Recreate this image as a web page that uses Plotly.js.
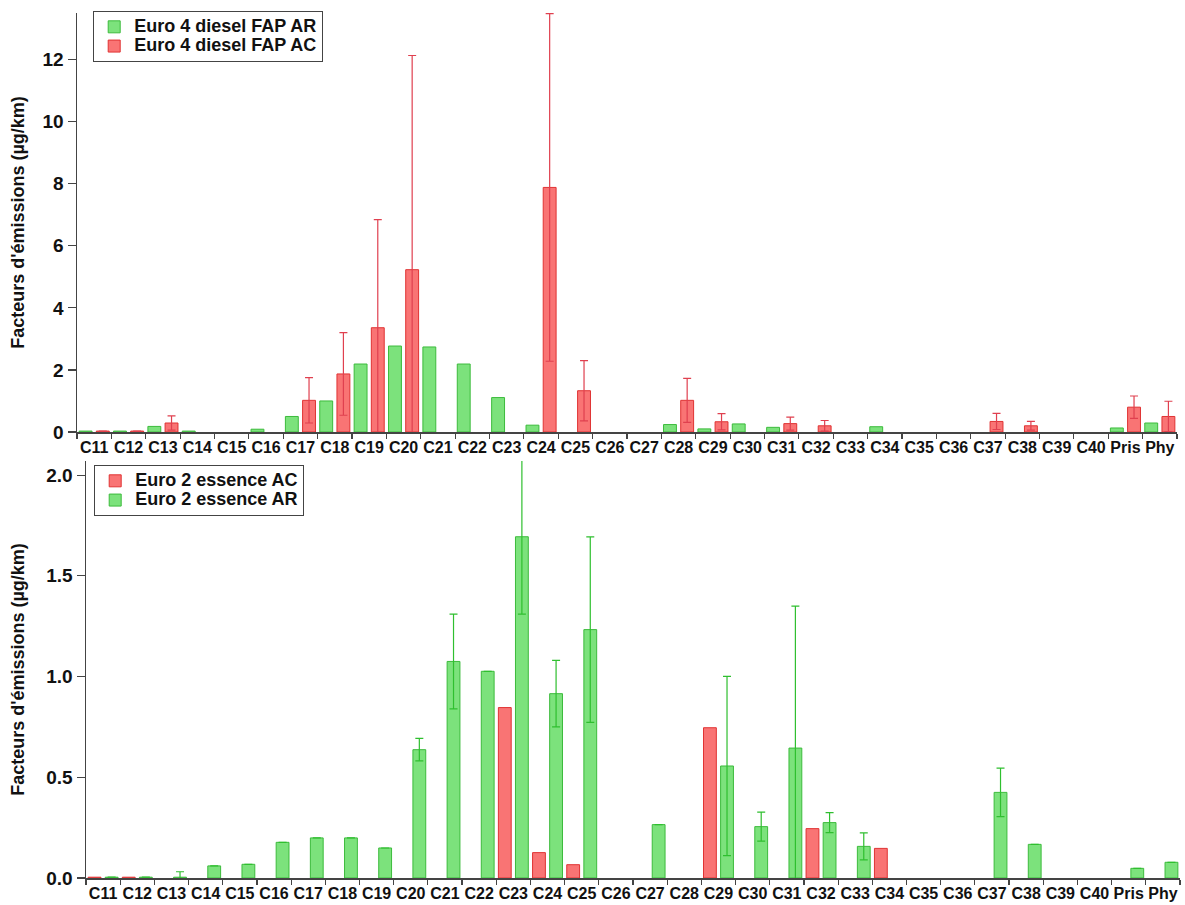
<!DOCTYPE html>
<html>
<head>
<meta charset="utf-8">
<script src="https://cdn.plot.ly/plotly-3.0.1.min.js"></script>
<style>html,body{margin:0;padding:0;background:#fff;}#chart{width:1185px;height:905px;}</style>
</head>
<body>
<div id="chart"></div>
<script>
const categories = ["C11","C12","C13","C14","C15","C16","C17","C18","C19","C20","C21","C22","C23","C24","C25","C26","C27","C28","C29","C30","C31","C32","C33","C34","C35","C36","C37","C38","C39","C40","Pris","Phy"];

// Top panel: Euro 4 diesel FAP
const dieselAR = [0.03,0.03,0.18,0.03,0,0.09,0.5,1.0,2.19,2.77,2.74,2.19,1.11,0.22,0,0,0,0.24,0.1,0.26,0.15,0,0,0.17,0,0,0,0,0,0,0.13,0.29];
const dieselAC = [0.03,0.03,0.29,0,0,0,1.02,1.87,3.36,5.23,0,0,0,7.88,1.33,0,0,1.02,0.33,0,0.27,0.2,0,0,0,0,0.34,0.2,0,0,0.8,0.5];
const dieselACerr = [null,null,0.23,null,null,null,0.73,1.33,3.48,6.9,null,null,null,5.6,0.97,null,null,0.71,0.26,null,0.21,0.17,null,null,null,null,0.26,0.14,null,null,0.36,0.49];

// Bottom panel: Euro 2 essence
const essenceAC = [0.004,0.004,0,0,0,0,0,0,0,0,0,0,0.846,0.126,0.066,0,0,0,0.746,0,0,0.245,0,0.147,0,0,0,0,0,0,0,0];
const essenceAR = [0.004,0.004,0.004,0.06,0.068,0.177,0.199,0.199,0.149,0.637,1.075,1.026,1.694,0.915,1.233,0,0.265,0,0.556,0.255,0.645,0.275,0.157,0,0,0,0.425,0.167,0,0,0.048,0.078];
const essenceARerr = [null,null,0.027,null,null,null,null,null,null,0.056,0.235,null,0.384,0.165,0.46,null,null,null,0.445,0.072,0.705,0.05,0.067,null,null,null,0.12,null,null,null,null,null];

// zero-height bars are not drawn in the reference
const nz = arr => arr.map(v => (v === 0 ? null : v));

const greenFill = "#7ce27c", greenLine = "#3cbb3c";
const redFill = "#f97474", redLine = "#e03333";
const big = t => '<span style="font-size:18px">' + t + '</span>';

const traces = [
  {type:"bar", name:big("Euro 4 diesel FAP AR"), x:categories, y:nz(dieselAR), xaxis:"x", yaxis:"y", legend:"legend",
   marker:{color:greenFill, line:{color:greenLine, width:1}}},
  {type:"bar", name:big("Euro 4 diesel FAP AC"), x:categories, y:nz(dieselAC), xaxis:"x", yaxis:"y", legend:"legend",
   marker:{color:redFill, line:{color:redLine, width:1}},
   error_y:{type:"data", array:dieselACerr, symmetric:true, visible:true, color:"#e0404f", thickness:1.2, width:4}},
  {type:"bar", name:big("Euro 2 essence AC"), x:categories, y:nz(essenceAC), xaxis:"x2", yaxis:"y2", legend:"legend2",
   marker:{color:redFill, line:{color:redLine, width:1}}},
  {type:"bar", name:big("Euro 2 essence AR"), x:categories, y:nz(essenceAR), xaxis:"x2", yaxis:"y2", legend:"legend2",
   marker:{color:greenFill, line:{color:greenLine, width:1}},
   error_y:{type:"data", array:essenceARerr, symmetric:true, visible:true, color:"#2fbf2f", thickness:1.2, width:4}}
];

const axisCommon = {
  showline:true, linecolor:"#444", linewidth:1.5, ticks:"outside", ticklen:5, tickcolor:"#444", tickwidth:1.2,
  showgrid:false, zeroline:false, tickfont:{size:16, color:"#111"}
};
const titleFont = {size:18, color:"#111"};

const layout = {
  width:1185, height:905,
  margin:{l:0, r:0, t:0, b:0},
  paper_bgcolor:"#fff", plot_bgcolor:"#fff",
  font:{family:"Liberation Sans, Arial, sans-serif", weight:"bold", color:"#111"},
  barmode:"group", bargap:0.0, bargroupgap:0.25,
  showlegend:true,
  xaxis:Object.assign({}, axisCommon, {domain:[77/1185, 1177/1185], anchor:"y", type:"category",
    tickson:"boundaries", range:[-0.5, 31.5], tickangle:0}),
  yaxis:Object.assign({}, axisCommon, {domain:[(905-432)/905, (905-13)/905], anchor:"x",
    range:[0, 13.5], tickvals:[0,2,4,6,8,10,12], ticklen:8, tickfont:{size:19, color:"#111"},
    title:{text:"Facteurs d'émissions (µg/km)", font:titleFont, standoff:13}}),
  xaxis2:Object.assign({}, axisCommon, {domain:[86/1185, 1180/1185], anchor:"y2", type:"category",
    tickson:"boundaries", range:[-0.5, 31.5], tickangle:0}),
  yaxis2:Object.assign({}, axisCommon, {domain:[27/905, (905-461)/905], anchor:"x2",
    range:[0, 2.07], tickvals:[0,0.5,1,1.5,2], tickformat:".1f", ticklen:8, tickfont:{size:19, color:"#111"},
    title:{text:"Facteurs d'émissions (µg/km)", font:titleFont, standoff:17}}),
  legend:{x:93/1185, y:(905-11)/905, xanchor:"left", yanchor:"top", bgcolor:"#fff",
    bordercolor:"#444", borderwidth:1.2, font:{size:12.5, color:"#111"}, traceorder:"normal", tracegroupgap:0},
  legend2:{x:94/1185, y:(905-465)/905, xanchor:"left", yanchor:"top", bgcolor:"#fff",
    bordercolor:"#444", borderwidth:1.2, font:{size:12.5, color:"#111"}, traceorder:"normal", tracegroupgap:0}
};

Plotly.newPlot("chart", traces, layout, {staticPlot:true, displayModeBar:false});
</script>
</body>
</html>
